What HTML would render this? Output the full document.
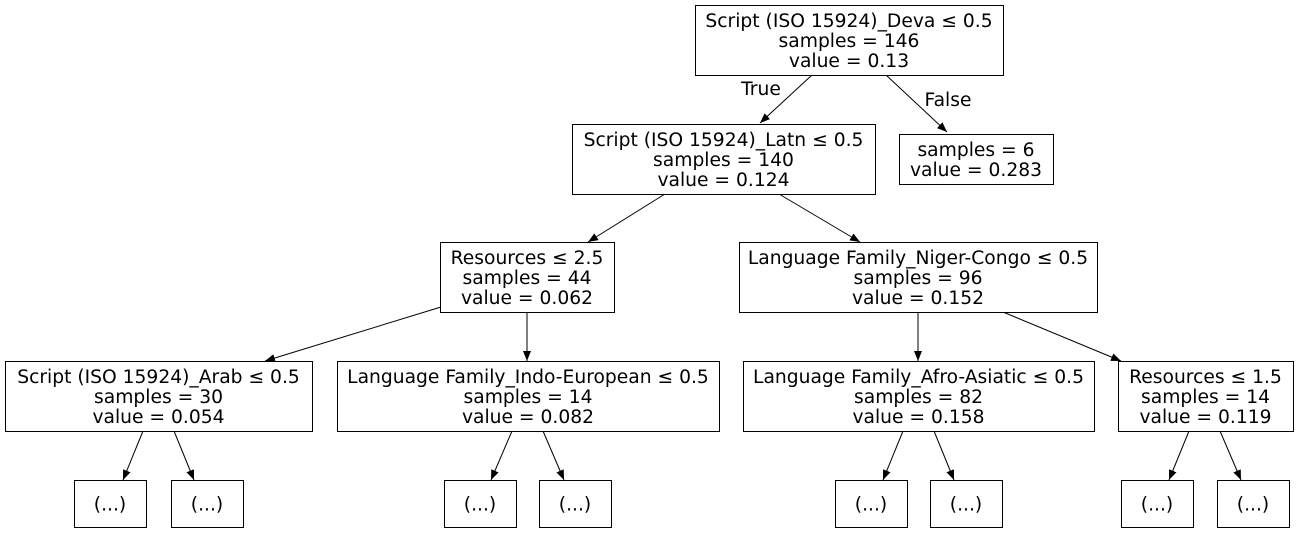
<!DOCTYPE html>
<html><head><meta charset="utf-8"><style>
html,body{margin:0;padding:0;background:#fff;}
svg{display:block;font-family:"DejaVu Sans","Liberation Sans",sans-serif;}
</style></head><body>
<svg id="tree" width="1298" height="533" viewBox="0 0 1298 533" xmlns="http://www.w3.org/2000/svg">
<defs><marker id="ah" markerWidth="10" markerHeight="8" refX="10" refY="4" orient="auto" markerUnits="userSpaceOnUse"><path d="M0,0 L10,4 L0,8 Z" fill="#000"/></marker></defs>
</svg>
<script>
const nodeLabels = [
 ["Script (ISO 15924)_Deva ≤ 0.5","samples = 146","value = 0.13"],
 ["Script (ISO 15924)_Latn ≤ 0.5","samples = 140","value = 0.124"],
 ["samples = 6","value = 0.283"],
 ["Resources ≤ 2.5","samples = 44","value = 0.062"],
 ["Language Family_Niger-Congo ≤ 0.5","samples = 96","value = 0.152"],
 ["Script (ISO 15924)_Arab ≤ 0.5","samples = 30","value = 0.054"],
 ["Language Family_Indo-European ≤ 0.5","samples = 14","value = 0.082"],
 ["Language Family_Afro-Asiatic ≤ 0.5","samples = 82","value = 0.158"],
 ["Resources ≤ 1.5","samples = 14","value = 0.119"],
 ["(...)"],["(...)"],["(...)"],["(...)"],["(...)"],["(...)"],["(...)"],["(...)"]
];
const nodeBoxes = [
 [695,5,308,70],[572,124,303,70],[899,134,154,50],[440,242,174,70],[739,242,358,70],
 [5,361,307,70],[337,361,382,70],[743,361,351,70],[1118,361,175,70],
 [74,480,72,47],[171,480,72,47],[444,480,72,47],[539,480,72,47],
 [835,480,72,47],[930,480,72,47],[1121,480,72,47],[1217,480,72,47]
];
const edges = [
 [812,75,760,123],[886,75,947,132],[665,194,588,242],[779,194,860,242],
 [441,307,265,361],[527,312,527,361],[918,312,918,361],[1003,312,1121,361],
 [143,431,123,480],[174,431,194,480],[512,431,491,480],[543,431,564,480],
 [903,431,883,480],[934,431,954,480],[1189,431,1169,480],[1220,431,1241,480]
];
const edgeLabels = [["True",761,95],["False",948,106]];
const NS="http://www.w3.org/2000/svg";
const FS='18.7';
const svg=document.getElementById('tree');
edges.forEach((e,i)=>{
 const l=document.createElementNS(NS,'line');
 l.setAttribute('x1',e[0]);l.setAttribute('y1',e[1]);l.setAttribute('x2',e[2]);l.setAttribute('y2',e[3]);
 l.setAttribute('stroke','#000');l.setAttribute('stroke-width','1');l.setAttribute('marker-end','url(#ah)');
 
 
 svg.appendChild(l);
});
edgeLabels.forEach(t=>{
 const tx=document.createElementNS(NS,'text');
 tx.setAttribute('x',t[1]);tx.setAttribute('y',t[2]);tx.setAttribute('text-anchor','middle');tx.setAttribute('font-size',FS);
 tx.textContent=t[0];
 
 
 svg.appendChild(tx);
});
nodeBoxes.forEach((b,i)=>{
 const g=document.createElementNS(NS,'g');
 
 
 const r=document.createElementNS(NS,'rect');
 r.setAttribute('x',b[0]+0.5);r.setAttribute('y',b[1]+0.5);r.setAttribute('width',b[2]);r.setAttribute('height',b[3]);
 r.setAttribute('fill','#fff');r.setAttribute('stroke','#000');
 g.appendChild(r);
 const lines=nodeLabels[i];const cx=b[0]+b[2]/2;const cy=b[1]+b[3]/2;
 lines.forEach((s,j)=>{
  const t=document.createElementNS(NS,'text');
  t.setAttribute('x',cx);t.setAttribute('y',cy+(j-(lines.length-1)/2)*20+7);
  t.setAttribute('text-anchor','middle');t.setAttribute('font-size',FS);
  t.textContent=s;g.appendChild(t);
 });
 svg.appendChild(g);
});
</script>
</body></html>
